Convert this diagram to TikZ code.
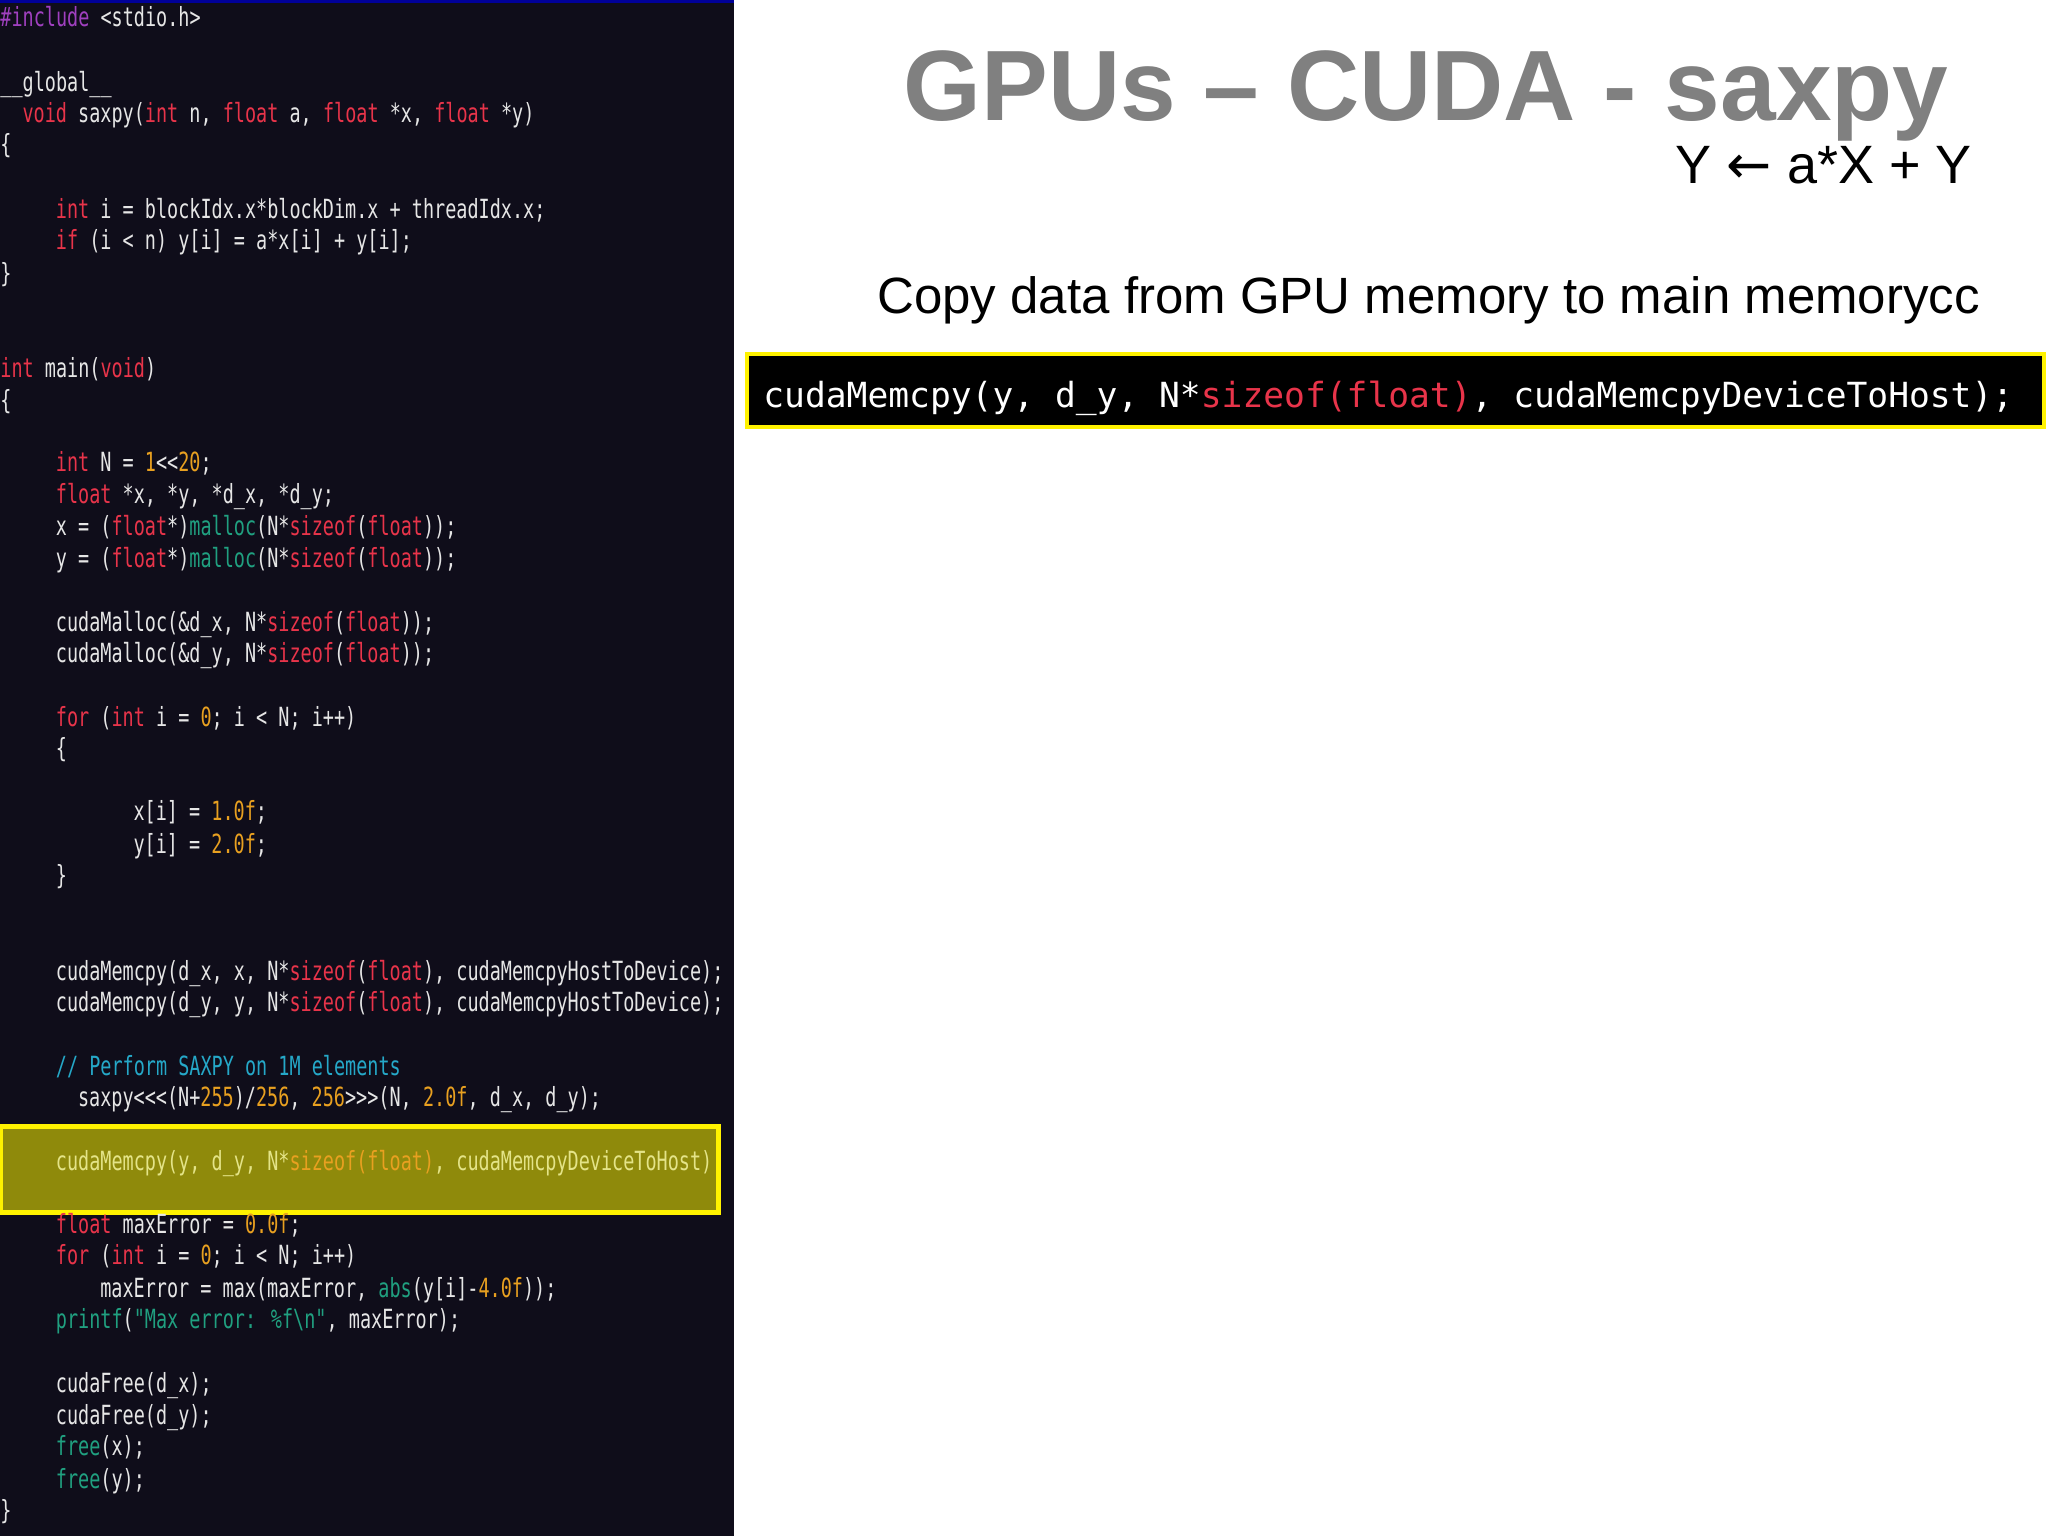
\documentclass[tikz,border=0pt]{standalone}
\usepackage{fontspec}
\setmainfont{Liberation Sans}
\newfontfamily\codefont{DejaVu Sans Mono}[FakeStretch=0.7]
\newfontfamily\boxfont{DejaVu Sans Mono}
\newfontfamily\djv{DejaVu Sans}
\definecolor{panel}{HTML}{0F0D1A}
\definecolor{codetxt}{HTML}{E6E6E6}
\definecolor{kw}{HTML}{E8344A}
\definecolor{nm}{HTML}{E8A020}
\definecolor{fn}{HTML}{20A080}
\definecolor{cm}{HTML}{25A8C8}
\definecolor{pp}{HTML}{A040C0}
\definecolor{hl}{HTML}{8F8A0B}
\definecolor{hltxt}{HTML}{E4E488}
\definecolor{titlegray}{HTML}{808080}
\newcommand\K[1]{\textcolor{kw}{#1}}
\newcommand\N[1]{\textcolor{nm}{#1}}
\newcommand\F[1]{\textcolor{fn}{#1}}
\newcommand\C[1]{\textcolor{cm}{#1}}
\newcommand\PP[1]{\textcolor{pp}{#1}}
\newcommand\OR[1]{\textcolor{nm}{#1}}
\def\cw{11.1}
\begin{document}
\begin{tikzpicture}[x=0.5pt,y=-0.5pt,
  cl/.style={anchor=base west,inner sep=0pt,text=codetxt,font=\codefont\fontsize{13.2}{15}\selectfont}]
\useasboundingbox (0,0) rectangle (2048,1536);
\fill[white] (0,0) rectangle (2048,1536);
\fill[panel] (0,0) rectangle (734,1536);
\fill[blue!60!black] (0,0) rectangle (734,3);
\fill[hl] (0,1126) rectangle (718,1212);
\draw[yellow,line width=2.5pt] (0,1126) rectangle (718,1212);
\node[cl] (l1) at (0,27) {\PP{\#include} <stdio.h>};
\node[cl] (l2) at (0,91.4) {\_\_global\_\_};
\node[cl] (l3) at (2*\cw,122.8) {\K{void} saxpy(\K{int} n, \K{float} a, \K{float} *x, \K{float} *y)};
\node[cl] (l4) at (0,154) {\{};
\node[cl] (l5) at (5*\cw,218) {\K{int} i = blockIdx.x*blockDim.x + threadIdx.x;};
\node[cl] (l6) at (5*\cw,249.5) {\K{if} (i < n) y[i] = a*x[i] + y[i];};
\node[cl] (l7) at (0,282) {\}};
\node[cl] (l8) at (0,377.5) {\K{int} main(\K{void})};
\node[cl] (l9) at (0,409) {\{};
\node[cl] (l10) at (5*\cw,471.5) {\K{int} N = \N{1}<{}<\N{20};};
\node[cl] (l11) at (5*\cw,503) {\K{float} *x, *y, *d\_x, *d\_y;};
\node[cl] (l12) at (5*\cw,535.5) {x = (\K{float}*)\F{malloc}(N*\K{sizeof}(\K{float}));};
\node[cl] (l13) at (5*\cw,567) {y = (\K{float}*)\F{malloc}(N*\K{sizeof}(\K{float}));};
\node[cl] (l14) at (5*\cw,631) {cudaMalloc(\&d\_x, N*\K{sizeof}(\K{float}));};
\node[cl] (l15) at (5*\cw,662) {cudaMalloc(\&d\_y, N*\K{sizeof}(\K{float}));};
\node[cl] (l16) at (5*\cw,726) {\K{for} (\K{int} i = \N{0}; i < N; i++)};
\node[cl] (l17) at (5*\cw,757.5) {\{};
\node[cl] (l18) at (12*\cw,820) {x[i] = \N{1.0f};};
\node[cl] (l19) at (12*\cw,853) {y[i] = \N{2.0f};};
\node[cl] (l20) at (5*\cw,884) {\}};
\node[cl] (l21) at (5*\cw,980) {cudaMemcpy(d\_x, x, N*\K{sizeof}(\K{float}), cudaMemcpyHostToDevice);};
\node[cl] (l22) at (5*\cw,1011) {cudaMemcpy(d\_y, y, N*\K{sizeof}(\K{float}), cudaMemcpyHostToDevice);};
\node[cl] (l23) at (5*\cw,1075) {\C{// Perform SAXPY on 1M elements}};
\node[cl] (l24) at (7*\cw,1106) {saxpy<{}<{}<(N+\N{255})/\N{256}, \N{256}>{}>{}>(N, \N{2.0f}, d\_x, d\_y);};
\node[cl,text=hltxt] (l25) at (5*\cw,1170) {cudaMemcpy(y, d\_y, N*\OR{sizeof(float)}, cudaMemcpyDeviceToHost)};
\node[cl] (l26) at (5*\cw,1233) {\K{float} maxError = \N{0.0f};};
\node[cl] (l27) at (5*\cw,1264) {\K{for} (\K{int} i = \N{0}; i < N; i++)};
\node[cl] (l28) at (9*\cw,1297) {maxError = max(maxError, \F{abs}(y[i]-\N{4.0f}));};
\node[cl] (l29) at (5*\cw,1328) {\F{printf}(\F{"Max error: \%f\textbackslash n"}, maxError);};
\node[cl] (l30) at (5*\cw,1392) {cudaFree(d\_x);};
\node[cl] (l31) at (5*\cw,1424) {cudaFree(d\_y);};
\node[cl] (l32) at (5*\cw,1455) {\F{free}(x);};
\node[cl] (l33) at (5*\cw,1488) {\F{free}(y);};
\node[cl] (l34) at (0,1519) {\}};
% right side
\node[anchor=base east,inner sep=0pt,text=titlegray,font=\fontsize{50}{60}\selectfont\bfseries] (title) at (1949,120) {GPUs -- CUDA - saxpy};
\node[anchor=base east,inner sep=0pt,font=\fontsize{27}{32}\selectfont] (eq) at (1972,183) {Y {\djv ←} a*X + Y};
\node[anchor=base west,inner sep=0pt,font=\fontsize{25.5}{30}\selectfont] (copy) at (877,313) {Copy data from GPU memory to main memorycc};
\fill[black] (747,354) rectangle (2044,427);
\draw[yellow,line width=2pt] (747,354) rectangle (2044,427);
\node[anchor=base west,inner sep=0pt,text=white,font=\boxfont\fontsize{17.3}{20}\selectfont] (box) at (763,407) {cudaMemcpy(y, d\_y, N*\K{sizeof(float)}, cudaMemcpyDeviceToHost);};
\end{tikzpicture}
\end{document}
